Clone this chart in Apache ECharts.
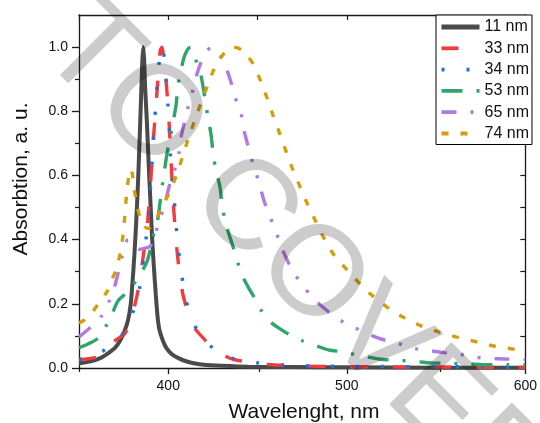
<!DOCTYPE html>
<html><head><meta charset="utf-8">
<script src="https://cdn.jsdelivr.net/npm/echarts@6/dist/echarts.min.js"></script>
<style>html,body{margin:0;padding:0;background:#fff}#c{width:540px;height:423px}</style>
</head><body><div id="c"></div>
<script>
// ---- data (wavelength nm / absorption a.u.) ----
const names = ['11 nm','33 nm','34 nm','53 nm','65 nm','74 nm'];

const wl11 = [350,356,361.6,366,370,373,375.5,377.5,379,380,381,382,383,384,385,385.5,386,386.5,387,388,389,390,391,392,393,394,395,397,399,402,406,410,415,420,430,445,470,500,550,600];
const a11  = [0.015,0.02,0.03,0.045,0.062,0.085,0.115,0.15,0.2,0.27,0.35,0.45,0.57,0.72,0.88,0.96,1.0,0.96,0.88,0.77,0.64,0.52,0.40,0.31,0.23,0.16,0.12,0.085,0.062,0.043,0.03,0.021,0.014,0.01,0.007,0.004,0.003,0.002,0.001,0.001];

const wl33 = [350,355,360,365,368,372,376,379,381,383,385,387,388.5,390,391.5,393,394.5,395.5,396.5,397.5,399,400.5,401.5,403,404.5,406,408,410,412,416,419,425,430,436,443,450,458,470,485,500,550,600];
const a33  = [0.025,0.029,0.034,0.055,0.077,0.092,0.11,0.15,0.19,0.24,0.31,0.39,0.46,0.57,0.70,0.81,0.92,0.99,1.0,0.96,0.88,0.76,0.65,0.50,0.39,0.31,0.235,0.19,0.15,0.115,0.097,0.06,0.042,0.028,0.02,0.014,0.01,0.007,0.005,0.004,0.003,0.002];

const wl34 = [350,356,362.6,368,373.6,377,380,383.8,386,387.5,388.9,389.9,390.8,391.5,392.5,393.4,394.5,395.5,396.7,397.7,398.5,399.5,400.4,401,401.7,403.2,404.1,405.5,407,409.2,412.4,416,420,425,430,436,443,450,460,470,485,500,550,600];
const a34  = [0.027,0.035,0.05,0.072,0.10,0.13,0.17,0.245,0.33,0.40,0.476,0.55,0.627,0.70,0.78,0.855,0.93,0.98,1.0,0.97,0.92,0.845,0.767,0.69,0.613,0.538,0.463,0.38,0.31,0.234,0.16,0.12,0.088,0.062,0.045,0.03,0.022,0.016,0.011,0.008,0.006,0.005,0.004,0.003];

const wl53 = [350,355,360,365,369,372,377.7,383.5,388,390,392,394,395.8,397.5,398.5,400,402,404.4,405,406,408.7,410.5,412.5,414.5,416,418,420,421,422.5,424,425,426.2,429,430,431.4,433,435,437.3,440,443,446,448.7,452,455,458,462,466,470,475,480,485,490,498,506,512,518,527,535,541,547,555,565,575,590,600];
const a53  = [0.063,0.075,0.09,0.13,0.175,0.21,0.24,0.285,0.33,0.37,0.42,0.46,0.533,0.60,0.64,0.69,0.745,0.82,0.855,0.9,0.965,0.99,1.0,0.98,0.95,0.92,0.86,0.82,0.775,0.725,0.676,0.63,0.563,0.517,0.47,0.435,0.40,0.36,0.31,0.27,0.24,0.215,0.18,0.155,0.14,0.124,0.11,0.10,0.085,0.075,0.065,0.056,0.05,0.04,0.034,0.028,0.024,0.022,0.019,0.016,0.015,0.014,0.011,0.01,0.01];

const wl65 = [350,356,362.6,367,370,373,375.5,377.5,380,384,388,390,392,394,396,398.6,400.8,403.7,406,406.8,408.9,411,413.3,415.2,418,421,424.5,428,432.1,435.1,437.3,440.6,441.9,444.3,446.5,449.3,451.5,454,456.7,460.4,463.1,466.8,470.5,476,480.7,488,495,503,511,520,528.7,537,545,554.5,563,571,580,589,600];
const a65  = [0.097,0.125,0.162,0.21,0.255,0.32,0.38,0.40,0.39,0.37,0.375,0.38,0.41,0.44,0.475,0.523,0.572,0.62,0.67,0.71,0.762,0.81,0.856,0.90,0.948,0.985,1.0,0.985,0.94,0.891,0.845,0.80,0.752,0.70,0.653,0.606,0.563,0.515,0.476,0.424,0.38,0.334,0.295,0.253,0.22,0.183,0.153,0.13,0.108,0.089,0.077,0.062,0.055,0.048,0.043,0.034,0.03,0.028,0.026];

const wl74 = [350,353,358,362,365.7,368,371,373.5,375,376,377,378,379.2,380,381,382.8,385.2,388.5,392,396.3,401.3,405,408.3,411.5,415.2,418.5,422.2,426.2,431.8,436.5,441,444,447.5,452,455.8,459,462.8,466.3,470,474,478,482.5,487,492.5,499,506.5,514,522.5,532,541,551,561,571,581,592,600];
const a74  = [0.14,0.15,0.178,0.21,0.238,0.27,0.31,0.37,0.43,0.50,0.56,0.60,0.62,0.60,0.555,0.50,0.45,0.435,0.45,0.50,0.554,0.608,0.663,0.72,0.777,0.829,0.883,0.938,0.984,1.0,0.992,0.975,0.948,0.891,0.834,0.782,0.725,0.67,0.615,0.562,0.51,0.458,0.407,0.355,0.313,0.267,0.227,0.19,0.157,0.133,0.113,0.097,0.084,0.07,0.06,0.055];

const xTickMajor = [400,500,600];
const xTickMinor = [350,450,550];
const yTickMajor = [0,0.2,0.4,0.6,0.8,1.0];
const yTickMinor = [0.1,0.3,0.5,0.7,0.9];

const wls = [wl11,wl33,wl34,wl53,wl65,wl74];
const abss = [a11,a33,a34,a53,a65,a74];
const colors = ['#4a4a4a','#f03c3c','#1e6fe0','#2ea56a','#b07ae2','#d49e0a'];
const widths = [4,3.4,3.4,3.4,3.4,3.4];
const legendWidths = [5,3.8,3.8,3.8,3.8,3.8];
const dashes = ['solid',[17,25],[3,22],[21,14,3,14],[15,14,3,14,3,14],[7,12]];

const FONT = 'Liberation Sans, Arial, sans-serif';
const AX = '#1a1a1a';

const chart = echarts.init(document.getElementById('c'), null, {renderer:'canvas'});
const gridRect = {left:79, right:10, top:15, bottom:55};

const series = names.map((n,i)=>({
  name:n, type:'line', xAxisIndex:0, yAxisIndex:0,
  data: wls[i].map((w,j)=>[w, abss[i][j]]),
  symbol:'none', showSymbol:false, smooth:0.25,
  lineStyle:{color:colors[i], width:widths[i], type:dashes[i]},
  itemStyle:{color:colors[i]},
  z: 2+i
}));

chart.setOption({
  animation:false,
  backgroundColor:'#fff',
  grid:[Object.assign({}, gridRect), Object.assign({}, gridRect)],
  xAxis:[
    {type:'value', gridIndex:0, position:'bottom', min:350, max:600,
     axisLine:{show:true, onZero:false, lineStyle:{color:AX, width:1.3}},
     axisTick:{show:true, inside:false, length:6, customValues:xTickMajor, lineStyle:{color:AX, width:1.3}},
     axisLabel:{show:true, customValues:xTickMajor, margin:11, fontSize:14, fontFamily:FONT, color:'#111'},
     splitLine:{show:false}},
    {type:'value', gridIndex:0, position:'top', min:350, max:600, interval:50,
     axisLine:{show:true, onZero:false, lineStyle:{color:AX, width:1.3}},
     axisTick:{show:true, inside:true, length:5, lineStyle:{color:AX, width:1.2}},
     axisLabel:{show:false}, splitLine:{show:false}},
    {type:'value', gridIndex:1, position:'bottom', min:350, max:600,
     axisLine:{show:false},
     axisTick:{show:true, inside:false, length:4, customValues:xTickMinor, lineStyle:{color:AX, width:1.2}},
     axisLabel:{show:false}, splitLine:{show:false}}
  ],
  yAxis:[
    {type:'value', gridIndex:0, position:'left', min:0, max:1.1,
     axisLine:{show:true, onZero:false, lineStyle:{color:AX, width:1.3}},
     axisTick:{show:true, inside:false, length:7, customValues:yTickMajor, lineStyle:{color:AX, width:1.3}},
     axisLabel:{show:true, customValues:yTickMajor, margin:11, fontSize:14, fontFamily:FONT, color:'#111',
       formatter:v=>Number(v).toFixed(1)},
     splitLine:{show:false}},
    {type:'value', gridIndex:0, position:'right', min:0, max:1.1,
     axisLine:{show:true, onZero:false, lineStyle:{color:AX, width:1.3}},
     axisTick:{show:true, inside:true, length:5, customValues:yTickMajor.concat(yTickMinor), lineStyle:{color:AX, width:1.2}},
     axisLabel:{show:false}, splitLine:{show:false}},
    {type:'value', gridIndex:1, position:'left', min:0, max:1.1,
     axisLine:{show:false},
     axisTick:{show:true, inside:false, length:4, customValues:yTickMinor, lineStyle:{color:AX, width:1.2}},
     axisLabel:{show:false}, splitLine:{show:false}}
  ],
  legend:{
    data:names.map((n,i)=>({name:n, lineStyle:{width:legendWidths[i]}})),
    orient:'vertical', left:436, top:15,
    padding:[4,3,3,3], itemWidth:38, itemHeight:16, itemGap:5.3,
    textStyle:{fontSize:16, fontFamily:FONT, color:'#111', lineHeight:16},
    itemStyle:{opacity:0},
    lineStyle:{width:3.8},
    backgroundColor:'#fff', borderColor:'#000', borderWidth:1, borderRadius:0
  },
  series: series,
  graphic:[
    {type:'text', x:21.5, y:179, rotation:Math.PI/2, silent:true,
     style:{text:'Absorbtion, a. u.', font:'21px '+FONT, fill:'#111', align:'center', verticalAlign:'middle', textAlign:'center', textVerticalAlign:'middle'}},
    {type:'text', x:304, y:412, silent:true,
     style:{text:'Wavelenght, nm', font:'21px '+FONT, fill:'#111', align:'center', verticalAlign:'middle', textAlign:'center', textVerticalAlign:'middle'}},
    {type:'text', x:297, y:262, rotation:-45*Math.PI/180, z:100, silent:true,
     style:{text:'TO COVER', font:'128px '+FONT, fill:'rgba(0,0,0,0.2)', align:'center', verticalAlign:'middle', textAlign:'center', textVerticalAlign:'middle'}}
  ]
});
</script></body></html>
